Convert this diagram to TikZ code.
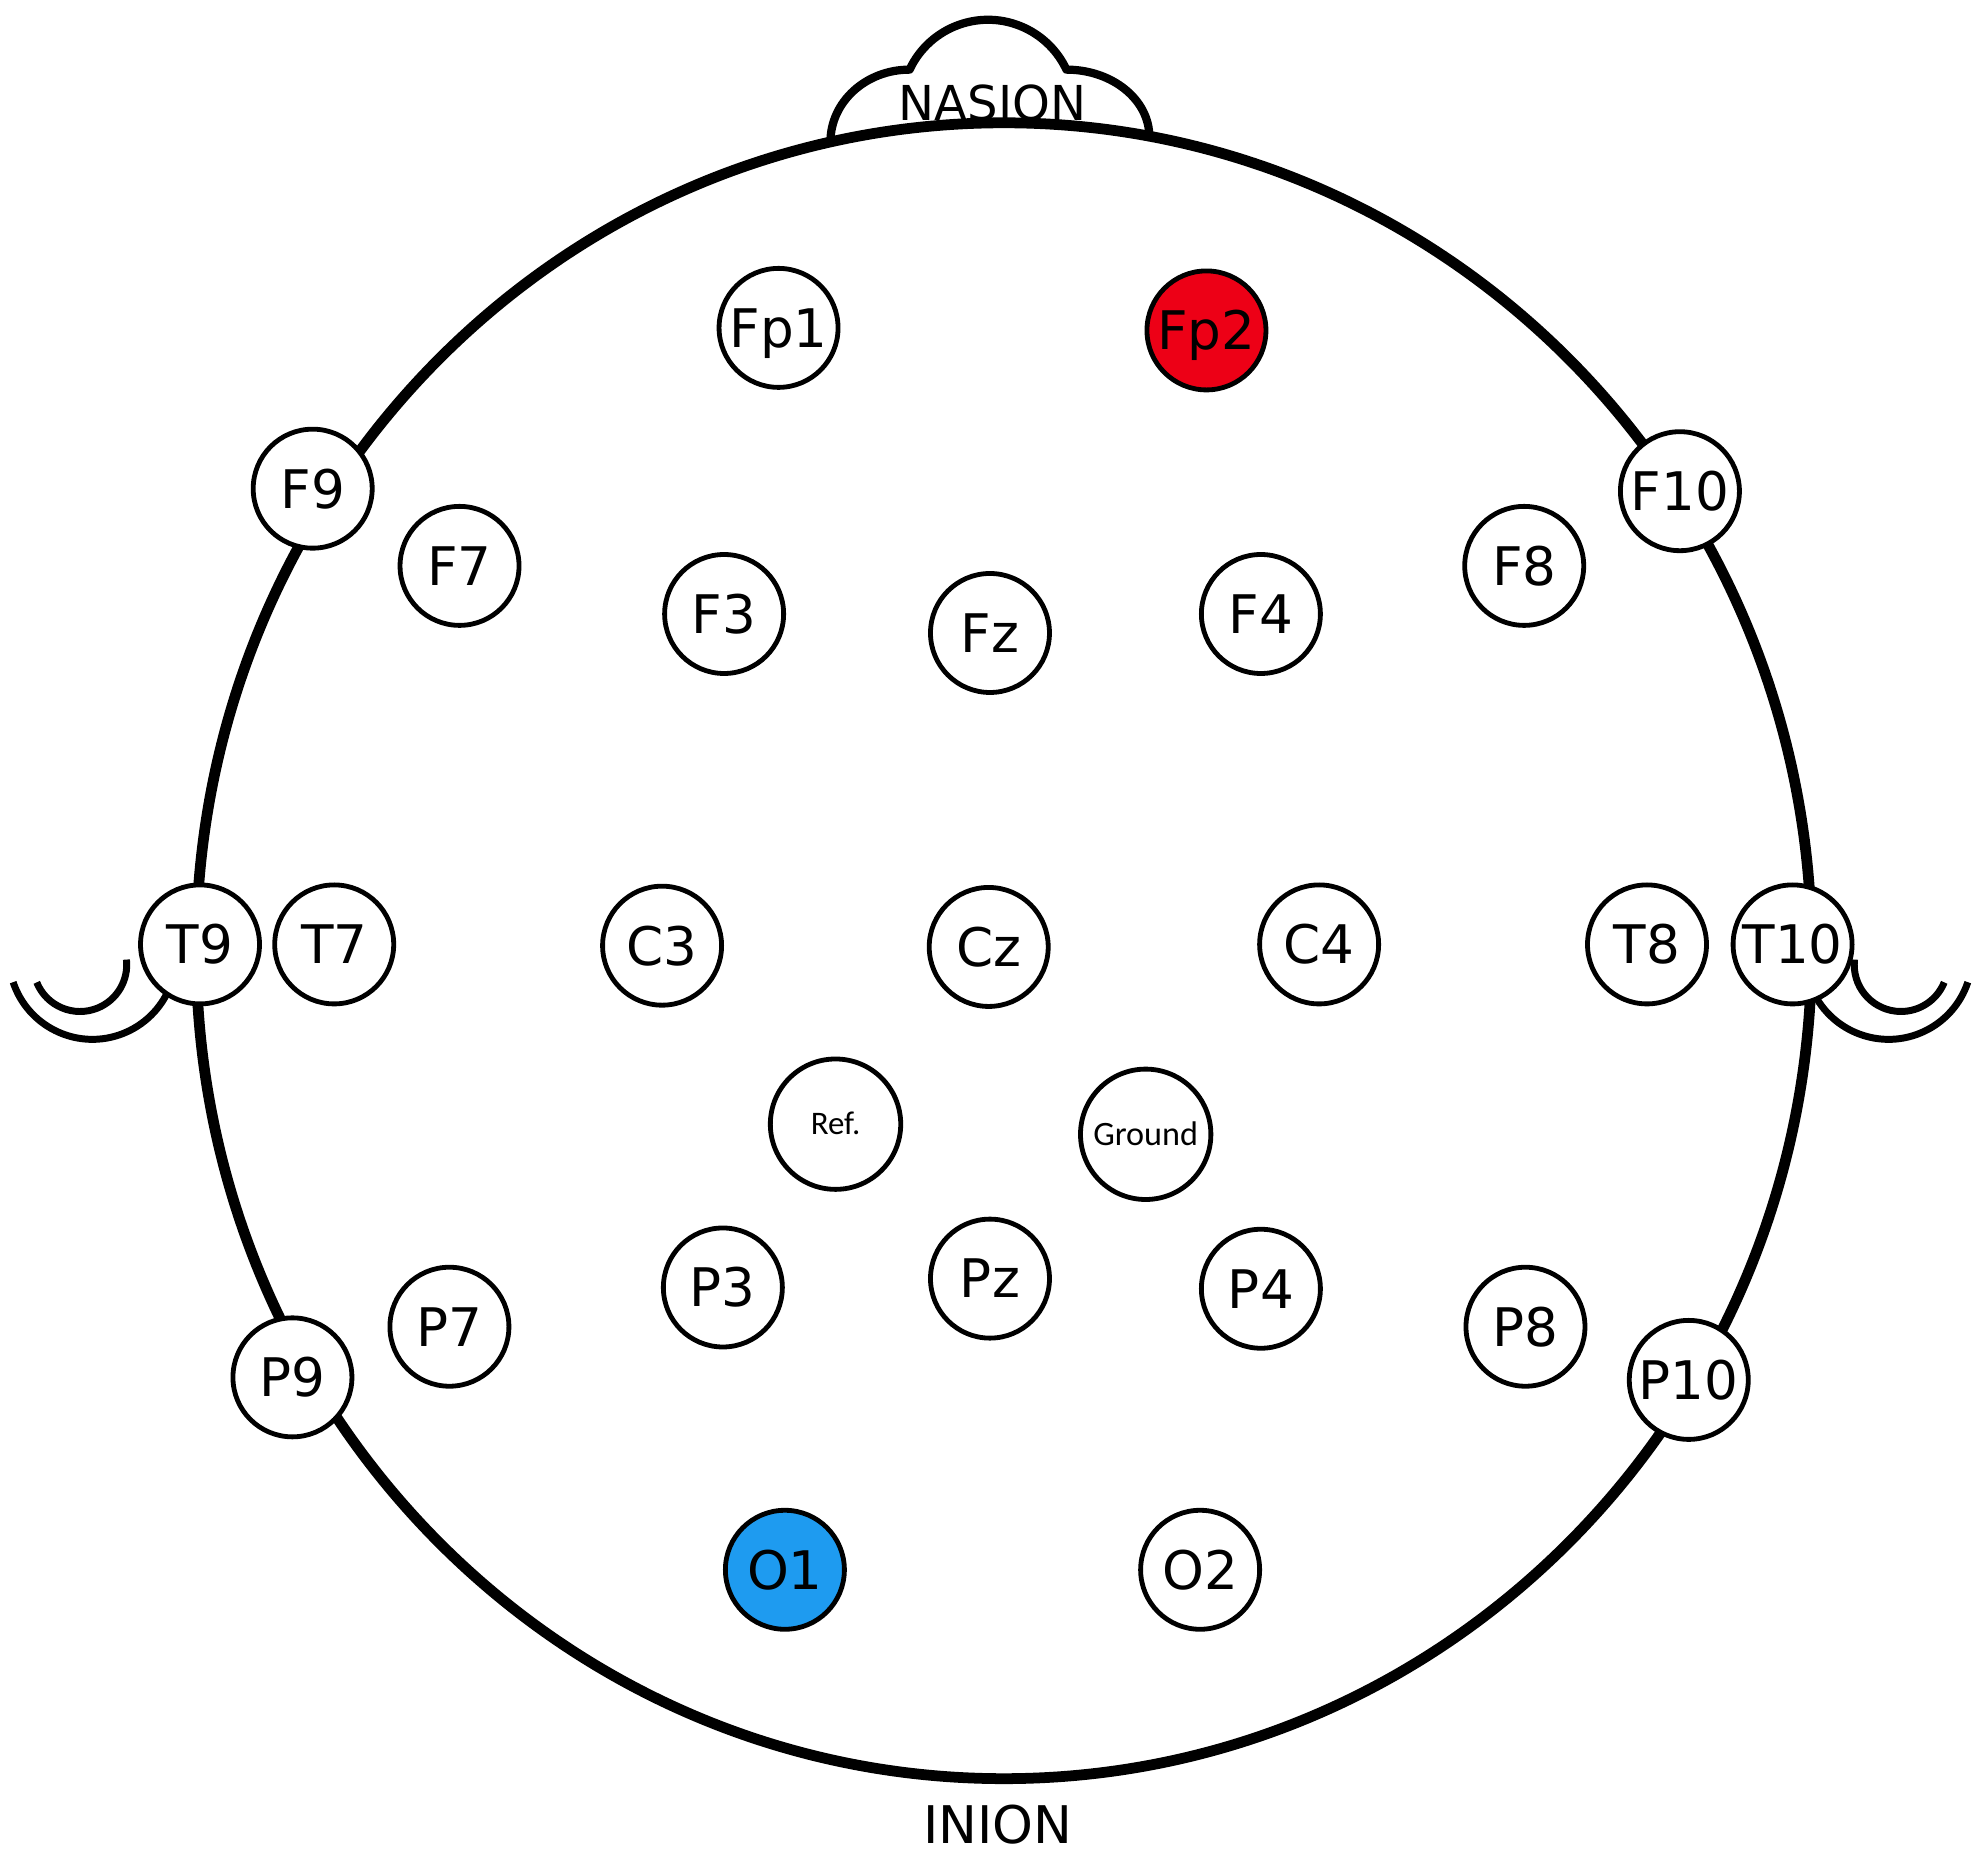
\documentclass[tikz,border=0pt]{standalone}
\usepackage{fontspec}
\setmainfont{DejaVu Sans}
\newfontfamily\calfont{Carlito}
\definecolor{fpred}{RGB}{237,0,22}
\definecolor{oblue}{RGB}{30,155,240}
\begin{document}
\begin{tikzpicture}[x=1pt,y=-1pt,
  electrode/.style={circle, draw=black, line width=3.8pt, fill=white, minimum size=94pt, inner sep=0pt,
    font=\fontsize{42}{50}\selectfont, text height=30.6pt, text depth=0pt},
  bigelec/.style={electrode, minimum size=103pt, font=\calfont\fontsize{26}{30}\selectfont, text height=17pt},
  headline/.style={line width=8.5pt},
  earline/.style={line width=5.5pt},
  nasionline/.style={line width=6.5pt, line join=round},
  landmark/.style={anchor=base, inner sep=0pt}
]
\useasboundingbox (0,0) rectangle (1568,1469);

% ears
\draw[earline] (73,755) ++(161.6:66) arc[start angle=161.6, end angle=25, radius=66];
\draw[earline] (63.2,762.1) ++(157.9:36.9) arc[start angle=157.9, end angle=-6.4, radius=36.9];
\draw[earline] (1491.8,755) ++(155:66) arc[start angle=155, end angle=18.4, radius=66];
\draw[earline] (1501.6,762.1) ++(186.4:36.9) arc[start angle=186.4, end angle=22.1, radius=36.9];

% head
\draw[headline] (793,751) ellipse [x radius=638, y radius=654];

% nose (nasion bump)
\draw[nasionline] (656,112) arc[start angle=180, end angle=270, x radius=62.5, y radius=57]
  arc[start angle=205.1, end angle=334.9, radius=68.4]
  arc[start angle=270, end angle=360, x radius=65.5, y radius=53];

\node[landmark, font=\fontsize{38}{44}\selectfont] (nasion) at (784,95) {NASION};
\node[landmark, font=\fontsize{41}{48}\selectfont] (inion) at (788,1456) {INION};

% electrodes
\node[electrode] (Fp1) at (615,259) {Fp1};
\node[electrode, fill=fpred] (Fp2) at (953,261) {Fp2};
\node[electrode] (F9) at (247,386) {F9};
\node[electrode] (F10) at (1327,388) {F10};
\node[electrode] (F7) at (363,447) {F7};
\node[electrode] (F8) at (1204,447) {F8};
\node[electrode] (F3) at (572,485) {F3};
\node[electrode] (F4) at (996,485) {F4};
\node[electrode] (Fz) at (782,500) {Fz};
\node[electrode] (T9) at (158,746) {T9};
\node[electrode] (T7) at (264,746) {T7};
\node[electrode] (C3) at (523,747) {C3};
\node[electrode] (Cz) at (781,748) {Cz};
\node[electrode] (C4) at (1042,746) {C4};
\node[electrode] (T8) at (1301,746) {T8};
\node[electrode] (T10) at (1416,746) {T10};
\node[bigelec] (Ref) at (660,888) {Ref.};
\node[bigelec, font=\calfont\fontsize{27}{32}\selectfont] (Ground) at (905,896) {Ground};
\node[electrode] (P3) at (571,1017) {P3};
\node[electrode] (Pz) at (782,1010) {Pz};
\node[electrode] (P4) at (996,1018) {P4};
\node[electrode] (P7) at (355,1048) {P7};
\node[electrode] (P8) at (1205,1048) {P8};
\node[electrode] (P9) at (231,1088) {P9};
\node[electrode] (P10) at (1334,1090) {P10};
\node[electrode, fill=oblue] (O1) at (620,1240) {O1};
\node[electrode] (O2) at (948,1240) {O2};
\end{tikzpicture}
\end{document}
